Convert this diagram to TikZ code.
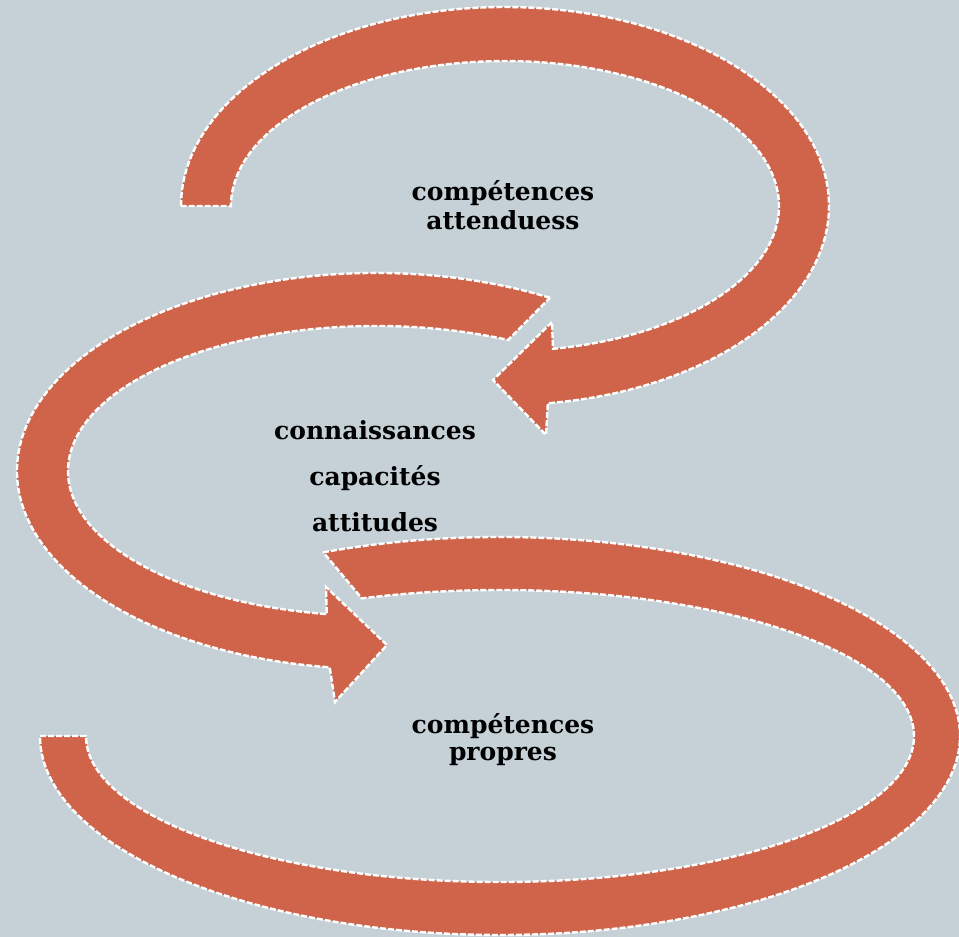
\documentclass[tikz,border=0pt]{standalone}
\usepackage{fontspec}
\setmainfont{DejaVu Serif}
\definecolor{fond}{RGB}{197,209,215}
\definecolor{brique}{RGB}{208,100,74}
\begin{document}
\begin{tikzpicture}
  [x=1pt,y=-1pt,
   fleche/.style={fill=brique,draw=white,line width=2.4pt,dash pattern=on 6pt off 2pt},
   every node/.style={align=center,font=\bfseries\fontsize{25}{29}\selectfont}]
  % fond
  \fill[fond] (0,0) rectangle (959,937);
  \useasboundingbox (0,0) rectangle (959,937);

  % fleche du haut
  \path[fleche] (181,206) arc[start angle=180,end angle=442.4,x radius=324,y radius=199]
    -- (546,435) -- (493,380) -- (552,322) -- (553,348.8)
    arc[start angle=439.9,end angle=180,x radius=274,y radius=145] -- cycle;

  % fleche du milieu
  \path[fleche] (550,297.8) arc[start angle=-61,end angle=-262.6,x radius=359,y radius=198]
    -- (335,702) -- (387,645) -- (326,587) -- (326.8,614.1)
    arc[start angle=-260.8,end angle=-64.6,x radius=308,y radius=145] -- cycle;

  % fleche du bas
  \path[fleche] (323.2,552.3) arc[start angle=247.4,end angle=540,x radius=460,y radius=199]
    -- (86,736)
    arc[start angle=540,end angle=250.5,x radius=414,y radius=146] -- cycle;

  % textes
  \node (attendues) at (503,205) {compétences\\attenduess};
  \node[font=\bfseries\fontsize{25}{46}\selectfont] (savoirs) at (375,476) {connaissances\\capacités\\attitudes};
  \node[font=\bfseries\fontsize{25}{27}\selectfont] (propres) at (503,740) {compétences\\propres};
\end{tikzpicture}
\end{document}
